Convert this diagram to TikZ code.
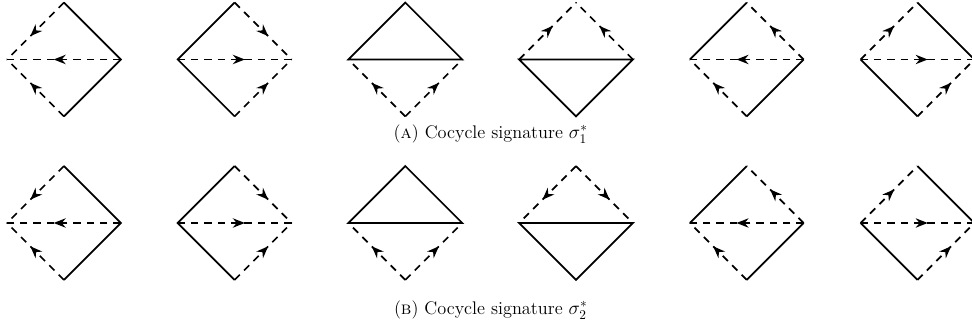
\documentclass[tikz,border=0pt]{standalone}
\usepackage{amsmath,amssymb}
\usepackage{tikz}
\usetikzlibrary{arrows.meta,decorations.markings}

\begin{document}
\begin{tikzpicture}[
  sol/.style={line width=1.3pt,line join=miter},
  dsh/.style={line width=1.3pt,dash pattern=on 5.5pt off 4.5pt,
              postaction={decorate},
              decoration={markings,mark=at position 0.59 with
                {\arrow{Stealth[length=9pt,width=7pt]}}}},
  capt/.style={font=\fontsize{13.7}{16}\selectfont,inner sep=0pt}]
  \useasboundingbox (-1.6845,1.568) rectangle (23.937,-7.104);
  % corners of the twelve diamonds
  \foreach \r/\y in {a/0,b/-4.31}
    \foreach \i in {1,...,6} {
      \coordinate (\r\i t) at ({4.5*(\i-1)},{\y+1.5});
      \coordinate (\r\i b) at ({4.5*(\i-1)},{\y-1.5});
      \coordinate (\r\i l) at ({4.5*(\i-1)-1.5},\y);
      \coordinate (\r\i r) at ({4.5*(\i-1)+1.5},\y);
    }
  \foreach \r in {a,b} {
    % first
    \draw[sol] (\r1t) -- (\r1r) -- (\r1b);
    \draw[dsh] (\r1t) -- (\r1l);
    \draw[dsh] (\r1b) -- (\r1l);
    \draw[dsh] (\r1r) -- (\r1l);
    % second
    \draw[sol] (\r2t) -- (\r2l) -- (\r2b);
    \draw[dsh] (\r2t) -- (\r2r);
    \draw[dsh] (\r2b) -- (\r2r);
    \draw[dsh] (\r2l) -- (\r2r);
    % third
    \draw[sol] (\r3l) -- (\r3t) -- (\r3r) -- cycle;
    \draw[dsh] (\r3b) -- (\r3l);
    \draw[dsh] (\r3b) -- (\r3r);
    % fourth
    \draw[sol] (\r4l) -- (\r4b) -- (\r4r) -- cycle;
    % fifth
    \draw[sol] (\r5l) -- (\r5t);
    \draw[sol] (\r5b) -- (\r5r);
    \draw[dsh] (\r5r) -- (\r5t);
    \draw[dsh] (\r5r) -- (\r5l);
    \draw[dsh] (\r5b) -- (\r5l);
    % sixth
    \draw[sol] (\r6t) -- (\r6r);
    \draw[sol] (\r6l) -- (\r6b);
    \draw[dsh] (\r6l) -- (\r6t);
    \draw[dsh] (\r6l) -- (\r6r);
    \draw[dsh] (\r6b) -- (\r6r);
  }
  \draw[dsh] (a4l) -- (a4t);
  \draw[dsh] (a4r) -- (a4t);
  \draw[dsh] (b4t) -- (b4l);
  \draw[dsh] (b4t) -- (b4r);
  \node[capt] (capa) at (11.25,-1.97) {(\textsc{a}) Cocycle signature $\sigma_1^*$};
  \node[capt] (capb) at (11.25,-6.61) {(\textsc{b}) Cocycle signature $\sigma_2^*$};
\end{tikzpicture}
\end{document}
